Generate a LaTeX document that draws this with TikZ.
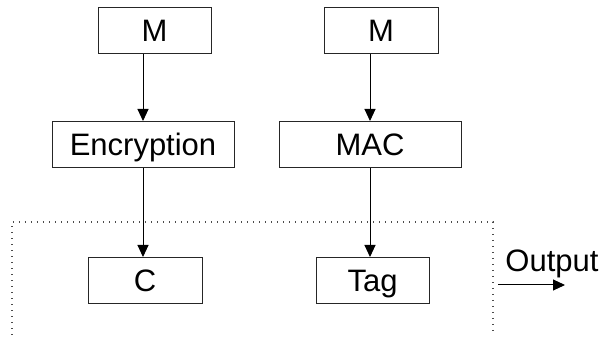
\documentclass[tikz,border=0pt]{standalone}
\usepackage{fontspec}
\setmainfont{Liberation Sans}
\usetikzlibrary{arrows.meta}

\begin{document}
\begin{tikzpicture}[
    x=1pt, y=-1pt,
    font={\fontsize{31}{36}\selectfont},
    box/.style={draw=black!85,line width=1pt,rectangle,inner sep=0pt,
        text height=22pt,text depth=0pt,minimum height=46pt},
    flow/.style={-{Triangle[length=12pt,width=11pt]},line width=1pt},
    frame/.style={line width=1.3pt,dash pattern=on 1.3pt off 4.7pt,black!70},
]
    \useasboundingbox (0,0) rectangle (606,339);

    % left column
    \node[box,minimum width=113pt] (msg1) at (154.5,31) {M};
    \node[box,minimum width=182pt] (enc)  at (143,144.5) {Encryption};
    \node[box,minimum width=114pt] (ctxt) at (145,280.5) {C};

    % right column
    \node[box,minimum width=114pt] (msg2) at (381,31) {M};
    \node[box,minimum width=182pt] (mac)  at (370,144.5) {MAC};
    \node[box,minimum width=113pt] (tag)  at (372.5,280.5) {Tag};

    \draw[flow] (enc.north |- msg1.south) -- (enc.north);
    \draw[flow] (enc.south) -- (enc.south |- ctxt.north);
    \draw[flow] (mac.north |- msg2.south) -- (mac.north);
    \draw[flow] (mac.south) -- (mac.south |- tag.north);

    % output region
    \draw[frame] (12,335) -- (12,222) -- (493,222) -- (493,335);
    \node[anchor=base,inner sep=0pt] (outlbl) at (552,272) {Output};
    \coordinate (outa) at (498,285);
    \coordinate (outb) at (565,285);
    \draw[flow] (outa) -- (outb);

\end{tikzpicture}
\end{document}
